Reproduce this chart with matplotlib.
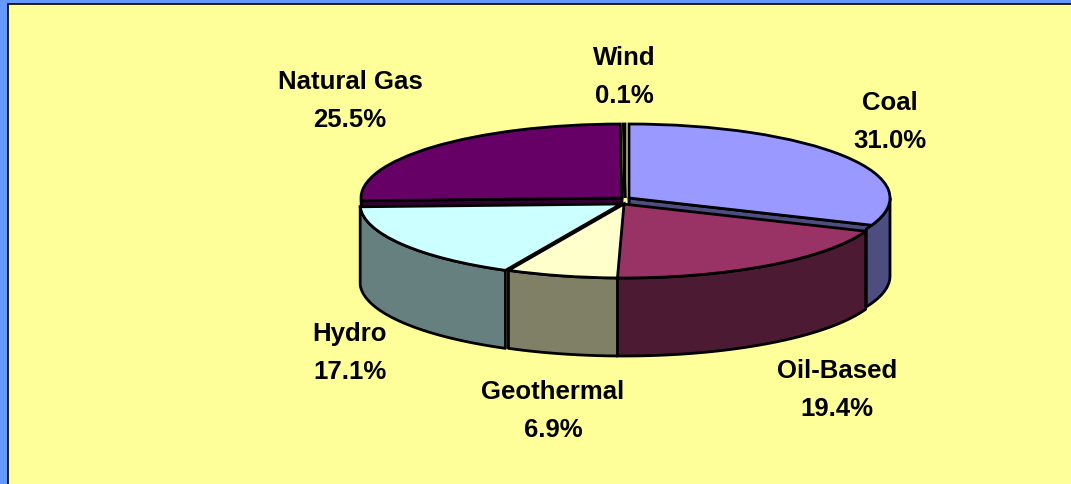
import numpy as np
import matplotlib
matplotlib.use('Agg')
import matplotlib.pyplot as plt
from matplotlib.patches import Polygon, Rectangle

# slice data, clockwise from 12 o'clock
categories = ['Coal', 'Oil-Based', 'Geothermal', 'Hydro', 'Natural Gas', 'Wind']
shares = [31.0, 19.4, 6.9, 17.1, 25.5, 0.1]
top_colors = ['#9999FF', '#993366', '#FFFFCC', '#CCFFFF', '#660066', '#FF8080']
wall_colors = ['#4D4D80', '#4D1A33', '#808066', '#668080', '#330033', '#804040']

# label anchors in pixels
label_x = [890, 837, 553, 350, 350, 624]
label_y = [122, 390, 411, 353, 101, 77]

W, H = 1071, 484
CX, CY = 625, 201    # pie centre, pixels
RX, RY = 261, 74     # ellipse radii, pixels
DEPTH = 78
CUT_DEPTH = 9
# small per-slice shift in pixels (the slices are pulled apart a little)
shift_x = [4, -2, -1, -4, -3, 0]
shift_y = [-3, 3, 3, 3, -3, -3]
EDGE = 2.0

plt.rcParams['font.family'] = ['Liberation Sans', 'DejaVu Sans']

fig = plt.figure(figsize=(W / 100, H / 100), dpi=100, facecolor='#6699FF')
# panel runs off the right and bottom, only top and left show the black line
fig.add_artist(Rectangle((7.5 / W, -0.1), 1.2, 1.1 - 4.5 / H, transform=fig.transFigure,
                         facecolor='#FFFF99', edgecolor='black', linewidth=1.2,
                         zorder=-1))

ax = fig.add_axes([0, 0, 1, 1])
ax.patch.set_visible(False)
wedges, _ = ax.pie(shares, startangle=90, counterclock=False, radius=1,
                   colors=top_colors,
                   wedgeprops=dict(edgecolor='black', linewidth=EDGE, joinstyle='miter'))
ax.set_aspect('auto')
# one data unit is one radius, so the circle comes out as the flat ellipse
ax.set_xlim(-CX / RX, (W - CX) / RX)
ax.set_ylim((CY - H) / RY, CY / RY)
ax.axis('off')

edges = np.concatenate([[0], np.cumsum(shares)]) / sum(shares) * 360
depth = DEPTH / RY
cut_depth = CUT_DEPTH / RY


def rim(t, ox, oy):
    t = np.radians(t)
    return ox + np.sin(t), oy + np.cos(t)


for i, name in enumerate(categories):
    ox, oy = shift_x[i] / RX, -shift_y[i] / RY
    upper = name in ('Coal', 'Natural Gas', 'Wind')
    wedges[i].set_center((ox, oy))
    wedges[i].set_zorder(4 if upper else 6)

    # outer wall, only the part that faces the viewer
    a, b = max(edges[i], 90), min(edges[i + 1], 270)
    if name == 'Coal':
        b += 3    # runs on behind the oil wall so no gap opens between them
    if a < b and name != 'Natural Gas':
        t = np.linspace(a, b, 60)
        x, y = rim(t, ox, oy)
        pts = np.r_[np.c_[x, y], np.c_[x[::-1], y[::-1] - depth]]
        ax.add_patch(Polygon(pts, closed=True, facecolor=wall_colors[i],
                             edgecolor='black', linewidth=EDGE, joinstyle='round',
                             zorder=3 if name == 'Coal' else 5))

    # cut face that shows under the two back slices
    if name in ('Coal', 'Natural Gas'):
        cut = edges[i + 1] if name == 'Coal' else edges[i]
        x, y = rim(cut, ox, oy)
        pts = [(ox, oy), (x, y), (x, y - cut_depth), (ox, oy - cut_depth)]
        ax.add_patch(Polygon(pts, closed=True, facecolor=wall_colors[i],
                             edgecolor='black', linewidth=EDGE, joinstyle='round',
                             zorder=2))

for name, val, lx, ly in zip(categories, shares, label_x, label_y):
    ax.text((lx - CX) / RX, (CY - ly) / RY, f'{name}\n{val:.1f}%',
            ha='center', va='center', fontsize=18.5, fontweight='bold',
            linespacing=1.75, color='black', zorder=8)

fig.savefig('out.png', dpi=100, facecolor=fig.get_facecolor())
